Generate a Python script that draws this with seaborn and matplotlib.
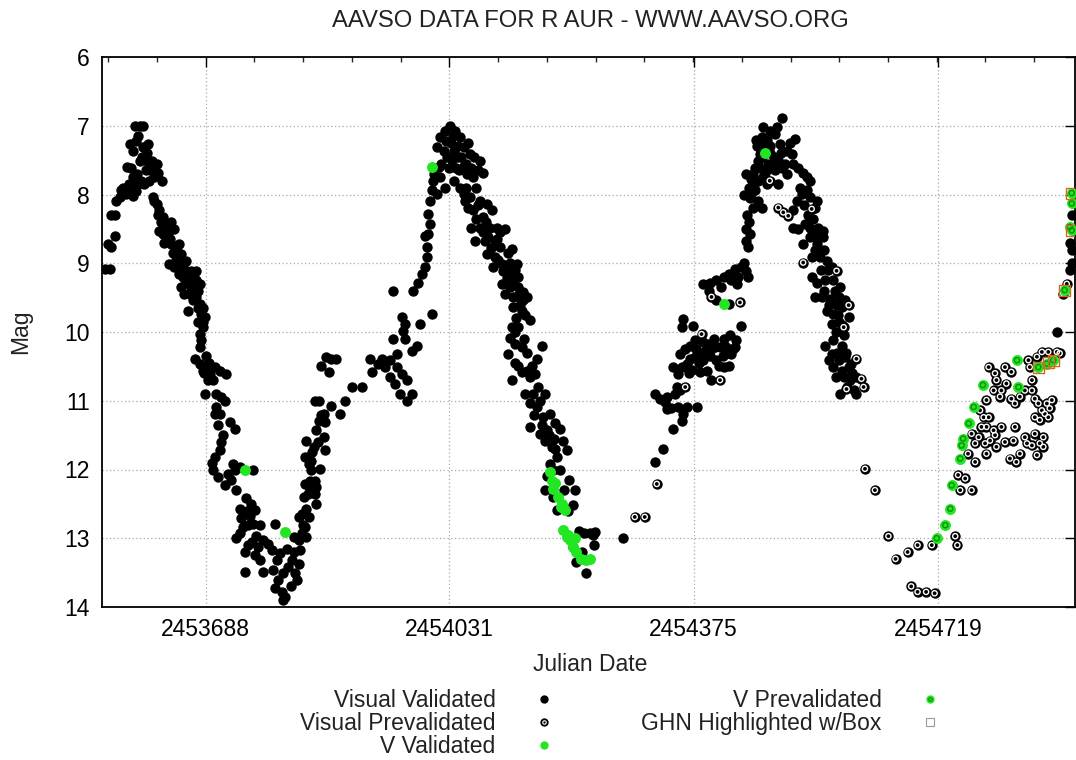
import numpy as np
import pandas as pd
import matplotlib
matplotlib.use("Agg")
import matplotlib.pyplot as plt
import seaborn as sns
from matplotlib.lines import Line2D
from matplotlib.ticker import FixedLocator, AutoMinorLocator
from matplotlib.legend_handler import HandlerTuple

# ---------------- data (days after JD 2453688, magnitude) ----------------
JD0 = 2453688
x_ticks = [2453688, 2454031, 2454375, 2454719]
y_ticks = [6, 7, 8, 9, 10, 11, 12, 13, 14]

vis_val_day = [
    -142, -135, -137, -133, -128, -133, -128, -126, -121, -119, -116, -112, -105, -102, -100, -93, -88,
    -107, -102, -98, -88, -81, -105, -102, -95, -86, -79, -74, -69, -67, -62, -93, -83, -76,
    -74, -69, -65, -60, -58, -65, -60, -55, -51, -44, -48, -41, -37, -34, -51, -44, -37, -30, -27,
    -20, -13, -34, -27, -20, -13, -8, -25, -18, -13, -8, -6, -1, -4, -8, -6, -8, -15, -8, -4, 1, 6,
    13, 20, 29, 3, 10, -1, 15, 22, 27, 15, 13, 20, 34, 41, 22, 20, 13, 10, 17, 27, 31, 38, 41, 48,
    67, 43, 48, 57, 64, 69, 62, 43, 48, 53, 60, 67, 76, 71, 81, 74, 55, 76, 55, 81,
    88, 98, 93, 100, 105, 95, 102, 109, 98, 107, 109, 116, 121, 126, 128, 131, 133, 131, 124, 135,
    142, 140, 131, 135, 142, 145, 138, 147, 154, 156, 140, 147, 154, 156, 149, 145, 161, 140, 149,
    142, 152, 168, 166, 156, 159, 166, 168, 154, 159, 177, 189, 196, 206, 220, 163, 170, 177, 184,
    173, 231, 234, 243, 248, 252, 259, 259, 266, 274, 283, 290, 283, 276, 269, 269, 264, 281, 278,
    290, 297, 276, 281, 302, 264, 292, 299, 304, 309, 311, 311, 313, 309, 316, 313, 316, 318, 320, 318,
    344, 337, 351, 330, 339, 358, 325, 335, 349, 363, 372, 386, 391, 332, 342, 353, 363, 374, 330,
    337, 325, 358, 367, 381, 363, 372, 386, 396, 377, 391, 403, 374, 386, 400, 410, 421, 379, 393,
    407, 414, 431, 396, 407, 417, 428, 438, 405, 419, 428, 440, 417, 428, 440, 447, 421, 433, 447,
    452, 433, 445, 457, 431, 440, 428, 435, 445, 473, 426, 440, 452, 466, 431, 445, 457, 464, 449,
    461, 478, 457, 466, 475, 485, 457, 471, 480, 492, 499, 478, 487, 503, 508, 494, 485, 499, 478,
    489, 494, 520, 517, 517, 532, 541, 546, 522, 536, 340, 347, 355, 368, 377, 350, 345, 355,
    548, 588, 632, 644, 658, 670, 672, 665, 677, 691, 632, 639, 646, 649, 663, 658, 665, 670, 677,
    682, 668, 675, 682, 689, 689, 696, 703, 707, 712, 717, 724, 733, 740, 745, 747, 696, 705, 712,
    722, 729, 736, 672, 670, 686, 754, 700, 710, 719, 729, 736, 745, 754, 761, 764, 719, 736, 761,
    764, 761, 766, 768, 773, 778, 783, 778, 768, 773, 778, 783, 785, 790, 787, 795, 800, 792, 783,
    776, 785, 790,
    794, 804, 801, 811, 830, 808, 818, 825, 780, 780, 780, 787, 801, 811, 818, 827, 834, 841, 846,
    851, 827, 832, 839, 846, 851, 858, 860, 827, 834, 844, 851, 862, 869, 841, 851, 860, 869, 853,
    865, 874, 881, 853, 860, 872, 883, 893, 858, 867, 879, 891, 900, 874, 883, 895, 905, 881, 891,
    872, 883, 895, 881, 891, 900, 909, 883, 895, 905, 898, 907, 916, 893, 916,
    1198, 1216, 1219, 1219, 1216, 1219,
]
vis_val_mag = [
    9.08, 9.08, 8.72, 8.77, 8.6, 8.3, 8.3, 8.09, 8.04, 7.94, 7.9, 7.99, 7.94, 8.02, 7.0, 7.0, 7.0,
    7.27, 7.36, 7.22, 7.31, 7.27, 7.61, 7.75, 7.85, 7.85, 7.8, 7.61, 7.56, 7.68, 7.8, 7.51, 7.51, 7.51,
    8.04, 8.14, 8.23, 8.33, 8.43, 8.53, 8.57, 8.62, 8.53, 8.5, 8.72, 8.77, 8.72, 8.86, 9.01, 9.06, 9.15, 9.08, 8.96,
    9.11, 9.11, 9.35, 9.28, 9.35, 9.25, 9.3, 9.69, 9.54, 9.49, 9.59, 9.74, 9.78, 9.93, 10.03, 10.12, 10.22, 10.39, 10.46, 10.56, 10.51, 10.61,
    10.51, 10.56, 10.61, 10.7, 10.7, 10.9, 10.9, 10.95, 11.0, 11.09, 11.19, 11.19, 11.31, 11.41, 11.6, 11.72, 11.82, 12.01, 12.11, 12.23, 12.06, 11.92, 12.01, 11.96,
    12.0, 12.3, 12.57, 12.42, 12.5, 12.59, 12.67, 13.0, 12.93, 12.84, 12.81, 12.79, 12.81, 12.96, 13.03, 13.13, 13.2, 13.32, 13.49, 13.49,
    13.08, 12.79, 13.17, 13.32, 13.22, 13.46, 13.61, 13.51, 13.73, 13.78, 13.9, 13.42, 13.32, 13.51, 13.61, 13.37, 13.17, 13.03, 12.98, 12.93,
    12.98, 12.84, 12.69, 12.64, 12.57, 12.69, 12.4, 12.3, 12.35, 12.5, 12.21, 12.16, 12.16, 12.25, 12.01, 11.92, 11.99, 11.82, 11.87,
    11.58, 11.67, 11.72, 11.53, 11.43, 11.29, 11.19, 11.31, 11.0, 11.0, 11.07, 11.19, 11.0, 10.8, 10.8, 10.49, 10.37, 10.39, 10.39,
    10.58, 10.39, 10.58, 10.46, 10.39, 10.51, 10.41, 10.66, 10.75, 10.9, 11.0, 10.9, 10.7, 10.61, 10.51, 10.32, 10.1, 10.1, 9.98,
    10.27, 10.2, 9.78, 9.88, 9.88, 9.4, 9.4, 9.28, 9.15, 9.06, 8.91, 8.77, 8.57, 8.6, 8.43, 8.28, 8.09, 7.94, 7.8, 9.74,
    7.0, 7.07, 7.07, 7.17, 7.22, 7.17, 7.31, 7.36, 7.36, 7.31, 7.41, 7.51, 7.68, 7.56, 7.61, 7.61, 7.58, 7.61, 7.75,
    7.9, 7.99, 7.9, 7.9, 7.9, 7.99, 8.04, 8.09, 8.14, 8.23, 8.33, 8.23, 8.48, 8.48, 8.48, 8.48, 8.5, 8.67, 8.67,
    8.67, 8.77, 8.79, 8.86, 8.91, 9.01, 8.99, 9.01, 9.06, 9.11, 9.15, 9.2, 9.3, 9.35, 9.35, 9.42, 9.45, 9.49, 9.54,
    9.49, 9.64, 9.69, 9.83, 9.93, 9.93, 10.08, 10.17, 10.22, 10.2, 10.32, 10.49, 10.56, 10.39, 10.7, 10.58, 10.66, 10.61, 10.9,
    10.9, 10.9, 11.04, 11.09, 11.24, 11.19, 11.38, 11.48, 11.43, 11.33, 11.41, 11.58, 11.67, 11.58, 11.72, 11.82, 11.92, 12.01, 12.3,
    12.4, 12.59, 12.3, 12.52, 13.13, 12.93, 12.93, 13.1, 13.34, 13.51, 7.45, 7.5, 7.45, 7.7, 7.75, 7.8, 7.25, 7.3,
    12.91, 13.0, 11.89, 11.7, 11.41, 11.29, 11.19, 11.09, 11.09, 11.09, 10.9, 10.97, 11.02, 11.12, 10.8, 10.51, 10.61, 10.51, 10.46,
    10.39, 10.32, 10.24, 10.2, 10.12, 10.37, 10.32, 10.27, 10.17, 10.24, 10.22, 10.22, 10.22, 10.32, 10.22, 10.12, 10.58, 10.56, 10.7,
    10.49, 10.51, 10.49, 9.81, 9.93, 9.91, 9.91, 9.3, 9.28, 9.25, 9.2, 9.15, 9.08, 9.06, 9.11, 9.2, 9.54, 9.59, 8.67,
    8.77, 8.5, 8.57, 7.99, 7.94, 8.09, 8.19, 7.8, 7.77, 7.61, 7.51, 7.17, 7.02, 7.2, 7.35, 7.3, 7.45, 7.55, 7.45,
    7.3, 7.75, 7.65,
    7.07, 7.02, 7.12, 6.88, 7.19, 7.27, 7.36, 7.41, 7.27, 7.41, 7.61, 7.75, 7.65, 7.61, 7.7, 7.56, 7.61, 7.68, 7.75,
    7.8, 8.23, 8.09, 7.99, 7.94, 8.04, 8.19, 8.09, 8.48, 8.5, 8.43, 8.48, 8.48, 8.53, 8.72, 8.62, 8.72, 8.62, 8.91,
    8.91, 8.96, 9.06, 9.2, 9.28, 9.25, 9.25, 9.35, 9.49, 9.49, 9.52, 9.49, 9.54, 9.69, 9.74, 9.64, 9.78, 9.88, 9.86,
    10.2, 10.12, 10.2, 10.32, 10.41, 10.37, 10.46, 10.51, 10.56, 10.51, 10.66, 10.7, 10.66, 10.9, 10.9,
    10.0, 8.71, 8.81, 9.0, 9.1, 8.3,
]

# further visual validated estimates in the dense parts of the curve
vis_val_day_b = [
    -72, -67, -63, -57, -53, -50, -46, -42, -39, -35, -32, -29, -24, -22, -17, -10, -11, -4, -3, -10,
    -58, -48, -40, -30, -16,
    -110, -97, -90, -84, -78, -72, -98, -108, -91, -82, -95,
    0, 5, -2, 18, 25, 9, 36, 50, 58, 65, 60, 70, 115, 120, 112, 125, 137, 144, 150, 162, 158,
    328, 348, 360, 366, 378, 383, 369, 322, 356,
    365, 370, 380, 384, 390, 395, 398, 402, 410, 412, 415, 423, 425, 432, 436, 424, 438, 443, 450,
    437, 436, 448, 452, 436, 460, 468, 470, 462, 483, 490, 474, 492, 480, 489, 505, 510, 512, 525,
    530, 545,
    650, 655, 660, 668, 680, 685, 694, 700, 710, 718, 728, 735, 742, 690, 700, 715, 730, 738, 748,
    740, 750, 725, 708, 758, 765, 770, 762, 766, 770,
    775, 782, 795, 805, 810, 815, 822, 798, 790, 805, 760, 765, 758, 771,
    836, 842, 848, 855, 856, 864, 858, 870, 876, 866, 870, 886, 878, 888, 890, 896, 887, 898, 877,
    888, 902, 887, 910, 903, 912,
]
vis_val_mag_b = [
    8.1, 8.3, 8.4, 8.55, 8.45, 8.65, 8.85, 8.95, 8.85, 9.0, 9.2, 9.2, 9.25, 9.45, 9.4, 9.4, 9.65, 9.65, 9.85, 9.85,
    8.7, 8.4, 9.05, 9.45, 9.25,
    7.6, 7.7, 7.45, 7.65, 7.65, 7.75, 7.95, 7.85, 7.8, 7.4, 7.15,
    10.35, 10.45, 10.6, 11.35, 11.5, 11.9, 12.15, 12.7, 12.6, 13.05, 13.1, 13.25, 13.15, 13.7, 13.85, 13.2, 12.8, 12.35, 11.75, 11.2, 11.6,
    7.6, 7.15, 7.45, 7.55, 7.45, 7.65, 7.25, 7.7, 7.65,
    8.1, 8.2, 8.35, 8.15, 8.55, 8.4, 8.62, 8.78, 8.65, 8.95, 8.55, 9.05, 8.85, 9.25, 9.1, 9.22, 9.48, 9.6, 9.75,
    9.8, 10.0, 10.1, 10.3, 10.45, 10.5, 10.8, 11.0, 11.2, 11.5, 11.55, 11.35, 11.7, 12.1, 12.0, 12.3, 12.6, 12.15, 12.9,
    13.2, 12.95,
    10.95, 11.1, 10.9, 10.85, 10.6, 10.55, 10.45, 10.4, 10.35, 10.4, 10.35, 10.3, 10.25, 10.25, 10.15, 10.1, 10.1, 10.05, 9.3,
    9.25, 9.2, 9.35, 9.4, 9.0, 8.4, 8.2, 8.3, 8.05, 7.85,
    7.2, 7.3, 7.4, 7.5, 7.4, 7.55, 7.25, 7.6, 7.85, 7.85, 7.7, 7.9, 8.0, 7.7,
    7.9, 8.15, 8.3, 8.35, 8.6, 8.6, 8.8, 8.8, 9.1, 9.1, 9.4, 9.4, 9.6, 9.6, 9.75, 9.9, 10.0, 10.05, 10.4,
    10.3, 10.3, 10.65, 10.6, 10.8, 10.85,
]

vis_pre_day = [
    604, 618, 635, 675, 698, 724, 712, 752,
    794, 806, 813, 820, 853, 841, 888, 905, 898, 916, 923, 902, 926, 928, 942, 961, 971, 988, 1002,
    1022, 993, 1002, 1014, 1026, 1055, 1058,
    1059, 1069, 1062, 1078, 1073, 1083, 1083, 1078, 1088, 1095, 1092, 1090, 1102, 1099, 1097, 1104,
    1099, 1109, 1111, 1113, 1120, 1125, 1132, 1137, 1139, 1146, 1141, 1153, 1156, 1167, 1163, 1170,
    1174, 1179, 1179, 1102, 1111, 1125, 1134, 1127, 1120, 1118, 1099, 1109, 1113, 1134, 1139, 1146,
    1153, 1163, 1163, 1167, 1172, 1177, 1167, 1174, 1181, 1184, 1191, 1188, 1186, 1158, 1160, 1170,
    1177, 1186, 1198, 1202, 1207, 1212,
]
vis_pre_mag = [
    12.69, 12.69, 12.21, 10.8, 10.03, 10.7, 9.49, 9.57,
    7.8, 8.19, 8.26, 8.31, 8.21, 8.99, 9.11, 9.61, 9.93, 10.39, 10.68, 10.83, 10.8, 11.99, 12.3, 12.97, 13.3, 13.2, 13.1,
    13.1, 13.7, 13.78, 13.78, 13.8, 12.97, 13.1,
    12.08, 12.13, 12.3, 12.3, 11.77, 11.89, 11.62, 11.48, 11.53, 11.24, 11.38, 11.14, 11.24, 11.38, 11.62, 11.58,
    11.77, 11.43, 11.5, 11.67, 11.38, 11.6, 11.84, 11.58, 11.38, 11.77, 11.89, 11.53, 11.62, 11.48, 11.65, 11.79,
    11.62, 11.53, 11.67, 10.51, 10.6, 10.51, 10.58, 10.75, 10.85, 10.94, 10.99, 10.85, 10.7, 10.97, 11.04, 10.94,
    10.85, 10.7, 10.85, 10.97, 11.04, 11.14, 11.24, 11.28, 11.19, 11.04, 10.99, 11.11, 11.24, 10.41, 10.51, 10.36,
    10.29, 10.29, 10.29, 10.31, 9.44, 9.3,
]

v_val_day = [56, 112, 319, 485, 487, 489, 492, 496, 500, 501, 506, 503, 508, 510, 513, 517, 520, 522,
             529, 536, 541, 729, 788]
v_val_mag = [12.0, 12.91, 7.6, 12.04, 12.16, 12.28, 12.2, 12.4, 12.55, 12.5, 12.59, 12.88, 12.98, 12.95,
             13.03, 13.13, 13.0, 13.2, 13.3, 13.32, 13.3, 9.59, 7.39]

v_pre_day = [1029, 1041, 1048, 1050, 1062, 1064, 1066, 1074, 1081, 1094, 1142, 1144, 1172, 1184, 1193,
             1209, 1219, 1219, 1219, 1216]
v_pre_mag = [13.0, 12.81, 12.57, 12.23, 11.84, 11.65, 11.55, 11.33, 11.09, 10.77, 10.41, 10.8, 10.51,
             10.46, 10.41, 9.39, 8.13, 7.98, 8.52, 8.47]

ghn_day = [1172, 1186, 1193, 1209, 1219, 1219]
ghn_mag = [10.51, 10.45, 10.41, 9.39, 7.98, 8.52]

legend_labels = ["Visual Validated", "Visual Prevalidated", "V Validated",
                 "V Prevalidated", "GHN Highlighted w/Box"]

# ---------------- frames ----------------
vv = pd.DataFrame({"jd": JD0 + np.array(vis_val_day + vis_val_day_b),
                   "mag": vis_val_mag + vis_val_mag_b})
vp = pd.DataFrame({"jd": JD0 + np.array(vis_pre_day), "mag": vis_pre_mag})
gv = pd.DataFrame({"jd": JD0 + np.array(v_val_day), "mag": v_val_mag})
gp = pd.DataFrame({"jd": JD0 + np.array(v_pre_day), "mag": v_pre_mag})
gh = pd.DataFrame({"jd": JD0 + np.array(ghn_day), "mag": ghn_mag})

# ---------------- style ----------------
sns.set_style("white")
plt.rcParams["font.family"] = ["Liberation Sans", "DejaVu Sans"]
FS = 16.5
GREEN = "#22e622"

fig = plt.figure(figsize=(10.76, 7.6), dpi=100)
ax = fig.add_axes([102 / 1076, 1 - 607 / 760, (1075 - 102) / 1076, (607 - 57) / 760])
ax.set_axisbelow(True)

S = 56
sns.scatterplot(data=vv, x="jd", y="mag", ax=ax, color="black", s=S, linewidth=0, legend=False, zorder=3)
sns.scatterplot(data=vp, x="jd", y="mag", ax=ax, color="black", s=S, linewidth=0, legend=False, zorder=3)
sns.scatterplot(data=vp, x="jd", y="mag", ax=ax, marker="o", s=14, facecolor="none",
                edgecolor="white", linewidth=1.0, legend=False, zorder=4)
sns.scatterplot(data=gv, x="jd", y="mag", ax=ax, color=GREEN, s=62, linewidth=0, legend=False, zorder=5)
sns.scatterplot(data=gp, x="jd", y="mag", ax=ax, color=GREEN, s=62, linewidth=0, legend=False, zorder=5)
sns.scatterplot(data=gp, x="jd", y="mag", ax=ax, marker="o", s=14, facecolor="none",
                edgecolor="#138a13", linewidth=1.0, legend=False, zorder=6)
sns.scatterplot(data=gh, x="jd", y="mag", ax=ax, marker="s", s=62, facecolor="none",
                edgecolor="#d2691e", linewidth=1.0, legend=False, zorder=7)

# ---------------- axes ----------------
ax.set_xlim(2453542.2, 2454911.6)
ax.set_ylim(14, 6)
ax.xaxis.set_major_locator(FixedLocator(x_ticks))
ax.set_xticklabels([str(t) for t in x_ticks])
ax.xaxis.set_minor_locator(AutoMinorLocator(5))
ax.set_yticks(y_ticks)
ax.set_yticklabels([str(t) for t in y_ticks])
ax.tick_params(axis="both", which="major", direction="in", length=7.5, width=1.0,
               top=True, right=True, labelsize=FS, colors="black", pad=8)
ax.tick_params(axis="x", which="minor", direction="in", length=3.5, width=1.0, top=True)
ax.tick_params(axis="y", pad=9)
ax.grid(True, which="major", color="#a8a8a8", linestyle=(0, (1, 2)), linewidth=0.9)
for sp in ax.spines.values():
    sp.set_visible(True)
    sp.set_color("black")
    sp.set_linewidth(1.3)

ax.set_xlabel("Julian Date", fontsize=FS, color="#222222")
ax.xaxis.set_label_coords(0.5015, -0.083)
ax.set_ylabel("Mag", fontsize=FS, color="#222222")
ax.yaxis.set_label_coords(-0.072, 0.5)

fig.text(590 / 1076, 1 - 21 / 760, "AAVSO DATA FOR R AUR - WWW.AAVSO.ORG",
         ha="center", va="center", fontsize=17.2, color="#222222")

# ---------------- legend ----------------
h_vv = Line2D([], [], linestyle="none", marker="o", markersize=6, color="black", markeredgewidth=0)
h_vp = (Line2D([], [], linestyle="none", marker="o", markersize=6, color="black", markeredgewidth=0),
        Line2D([], [], linestyle="none", marker="o", markersize=2.5, markerfacecolor="none",
               markeredgecolor="white", markeredgewidth=0.8))
h_gv = Line2D([], [], linestyle="none", marker="o", markersize=6, color=GREEN, markeredgewidth=0)
h_gp = (Line2D([], [], linestyle="none", marker="o", markersize=6, color=GREEN, markeredgewidth=0),
        Line2D([], [], linestyle="none", marker="o", markersize=2.5, markerfacecolor="none",
               markeredgecolor="#138a13", markeredgewidth=0.8))
h_gh = Line2D([], [], linestyle="none", marker="s", markersize=6, markerfacecolor="none",
              markeredgecolor="#9a9a9a", markeredgewidth=0.8)

fig.legend([h_vv, h_vp, h_gv, h_gp, h_gh], legend_labels, ncol=2, markerfirst=False,
           frameon=False, loc="upper left", bbox_to_anchor=(300 / 1076, 1 - 689 / 760),
           borderpad=0, borderaxespad=0, fontsize=FS, handlelength=1.0, handletextpad=1.6,
           columnspacing=3.75, labelspacing=0.0, labelcolor="#222222",
           handler_map={tuple: HandlerTuple(ndivide=1, pad=0)})

fig.savefig("out.png", dpi=100)
